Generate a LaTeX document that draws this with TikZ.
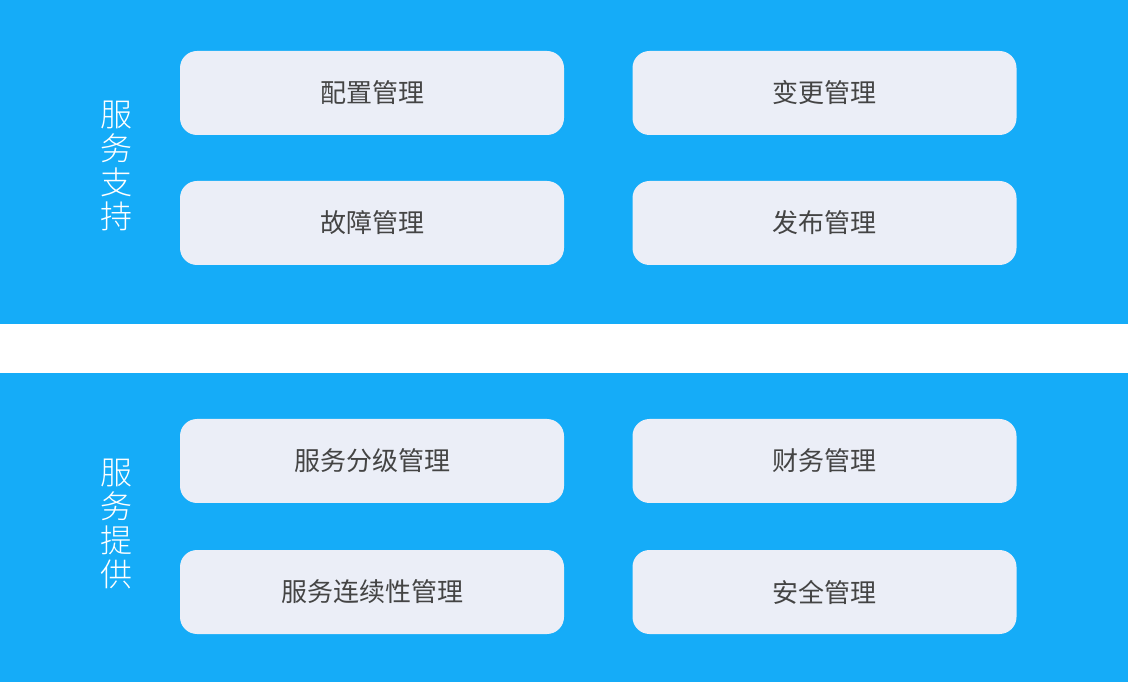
\documentclass[tikz,border=0pt]{standalone}
\usepackage{fontspec}
\newfontfamily\cjk{Noto Sans CJK SC}
\newfontfamily\cjklight{Noto Sans CJK SC Light}
\definecolor{bandblue}{HTML}{15ACF8}
\definecolor{boxfill}{HTML}{EBEEF7}
\definecolor{boxtext}{HTML}{444444}
\begin{document}
\begin{tikzpicture}[x=1pt,y=-1pt,
  band/.style={fill=bandblue,draw=none},
  itembox/.style={fill=boxfill,draw=none,rounded corners=17pt,minimum width=384pt,minimum height=84pt,inner sep=0pt,
    font=\cjk\fontsize{26}{30}\selectfont,text=boxtext},
  sidelabel/.style={font=\cjklight\fontsize{32}{34}\selectfont,text=white,align=center,inner sep=0pt}]
\useasboundingbox (0,0) rectangle (1128,684);
\fill[white] (0,0) rectangle (1128,684);
\path[band] (0,0) rectangle (1128,324);
\path[band] (0,373) rectangle (1128,682);
% top section
\node[sidelabel] (lab1) at (116,166) {服\\务\\支\\持};
\node[itembox] (b1) at (372,93) {配置管理};
\node[itembox] (b2) at (824.5,93) {变更管理};
\node[itembox] (b3) at (372,223) {故障管理};
\node[itembox] (b4) at (824.5,223) {发布管理};
% bottom section
\node[sidelabel] (lab2) at (116,524) {服\\务\\提\\供};
\node[itembox] (b5) at (372,461) {服务分级管理};
\node[itembox] (b6) at (824.5,461) {财务管理};
\node[itembox] (b7) at (372,592) {服务连续性管理};
\node[itembox] (b8) at (824.5,592) {安全管理};
\end{tikzpicture}
\end{document}
